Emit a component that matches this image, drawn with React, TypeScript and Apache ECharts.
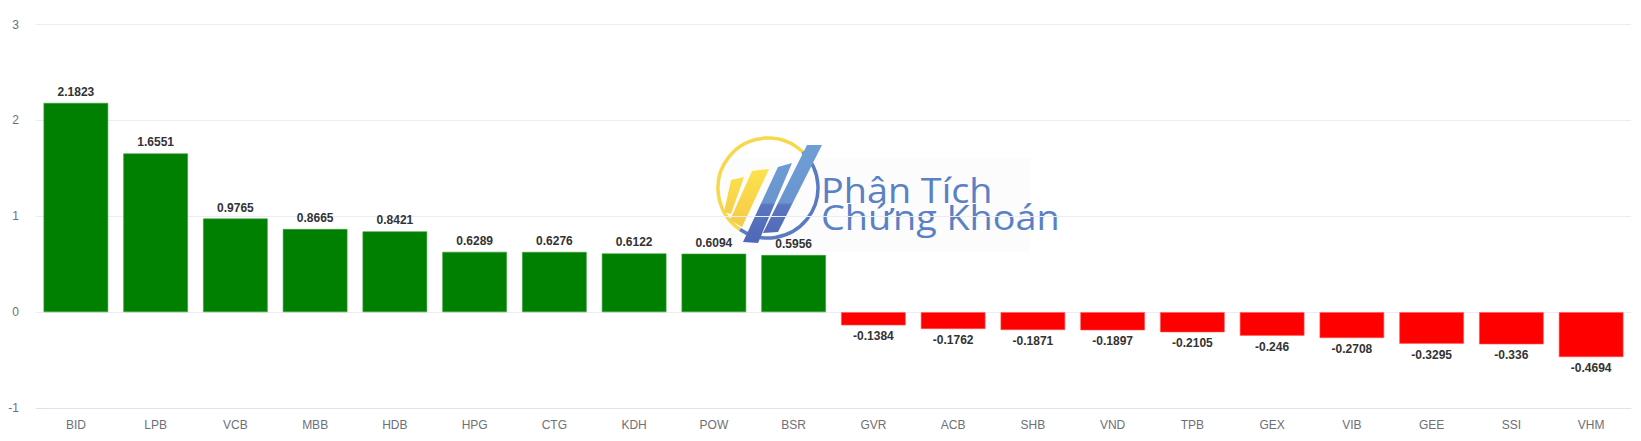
import React, { useEffect, useRef } from "react";
import * as echarts from "echarts";

const categories = ["BID", "LPB", "VCB", "MBB", "HDB", "HPG", "CTG", "KDH", "POW", "BSR", "GVR", "ACB", "SHB", "VND", "TPB", "GEX", "VIB", "GEE", "SSI", "VHM"];
const values = [2.1823, 1.6551, 0.9765, 0.8665, 0.8421, 0.6289, 0.6276, 0.6122, 0.6094, 0.5956, -0.1384, -0.1762, -0.1871, -0.1897, -0.2105, -0.246, -0.2708, -0.3295, -0.336, -0.4694];
const yTicks = [-1, 0, 1, 2, 3];
const watermark = "Phân Tích\nChứng Khoán";

const FONT = "Arial, 'Liberation Sans', sans-serif";

export default function App() {
  const ref = useRef<HTMLDivElement>(null);
  useEffect(() => {
    document.body.style.margin = "0";
    if (!ref.current) return;
    const chart = echarts.init(ref.current, undefined, { renderer: "svg" });
    const blueGrad = () =>
      new echarts.graphic.LinearGradient(0, 140, 0, 248, [
        { offset: 0, color: "#6F9FD6" },
        { offset: 0.58, color: "#6A95CF" },
        { offset: 0.6, color: "#5A76C0" },
        { offset: 1, color: "#4E66B5" },
      ], true);
    const yellowGrad = () =>
      new echarts.graphic.LinearGradient(0, 165, 0, 228, [
        { offset: 0, color: "#FCE44C" },
        { offset: 1, color: "#F6C948" },
      ], true);
    const deg = (d: number) => (d * Math.PI) / 180;
    chart.setOption({
      animation: false,
      grid: { left: 36, right: 10, top: 24.5, bottom: 33, containLabel: false },
      xAxis: {
        type: "category",
        data: categories,
        axisLine: { onZero: false, lineStyle: { color: "#DCE3F2" } },
        axisTick: { show: false },
        axisLabel: { color: "#6E7079", fontSize: 12, margin: 11, fontFamily: FONT },
      },
      yAxis: {
        type: "value",
        min: yTicks[0],
        max: yTicks[yTicks.length - 1],
        interval: 1,
        axisLabel: { color: "#6E7079", fontSize: 12, margin: 17, fontFamily: FONT },
        splitLine: { lineStyle: { color: "#EAEDF2" } },
      },
      series: [
        {
          type: "bar",
          barWidth: "81%",
          data: values.map((v) => ({
            value: v,
            itemStyle: { color: v >= 0 ? "#008000" : "#FF0000", borderColor: v >= 0 ? "#3E9E3E" : "#FF5C5C", borderWidth: 0.6 },
            label: { position: v >= 0 ? "top" : "bottom" },
          })),
          label: {
            show: true,
            color: "#333",
            fontWeight: "bold",
            fontSize: 12,
            fontFamily: FONT,
            distance: 5,
          },
        },
      ],
      graphic: [
        {
          type: "group",
          z: 100,
          children: [
            { type: "rect", shape: { x: 720, y: 158, width: 310, height: 94 }, style: { fill: "rgba(252,252,252,0.88)" } },
            { type: "arc", shape: { cx: 768, cy: 188, r: 50, startAngle: deg(124), endAngle: deg(314) }, style: { stroke: "#F8D84A", lineWidth: 3.5, fill: "none" } },
            { type: "arc", shape: { cx: 768, cy: 188, r: 50, startAngle: deg(314), endAngle: deg(484) }, style: { stroke: "#5A7BC2", lineWidth: 3.5, fill: "none" } },
            { type: "polygon", shape: { points: [[731, 180], [744, 177], [731, 214], [724, 212]] }, style: { fill: yellowGrad() } },
            { type: "polygon", shape: { points: [[752, 171], [769, 169], [742, 227], [730, 220]] }, style: { fill: yellowGrad() } },
            { type: "polygon", shape: { points: [[778, 167], [792, 163], [758, 243], [743, 242]] }, style: { fill: blueGrad() } },
            { type: "polygon", shape: { points: [[807, 145], [822, 145], [778, 232], [763, 233]] }, style: { fill: blueGrad() } },
            {
              type: "text",
              x: 821,
              y: 176,
              scaleX: 1.08,
              originX: 0,
              originY: 0,
              style: {
                text: watermark,
                fill: "#5A81C4",
                font: "35px 'Open Sans', sans-serif",
                lineHeight: 27,
                verticalAlign: "top",
              },
            },
          ],
        },
      ],
    });
    return () => chart.dispose();
  }, []);
  return <div ref={ref} style={{ width: 1641, height: 441 }} />;
}
